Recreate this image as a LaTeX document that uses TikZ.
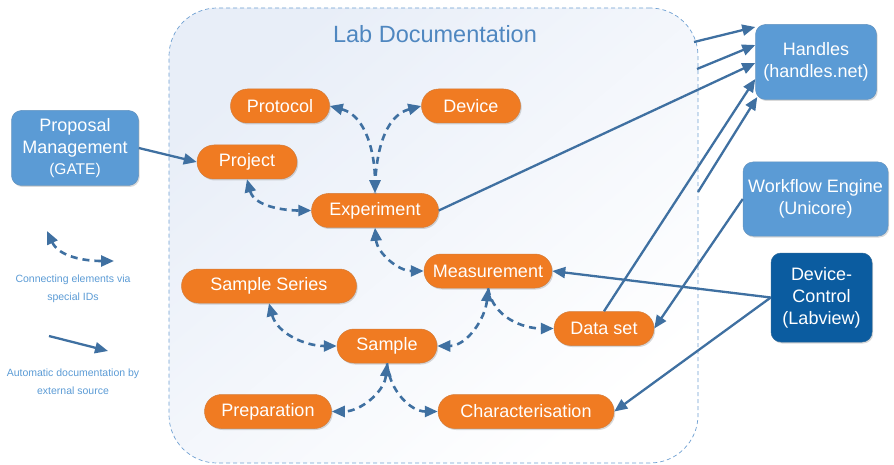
\documentclass[tikz,border=0pt]{standalone}
\usepackage{fontspec}
\setmainfont{Liberation Sans}
\usetikzlibrary{arrows.meta,shadows}
\definecolor{orng}{HTML}{F07B22}
\definecolor{lblue}{HTML}{5B9BD5}
\definecolor{dblue}{HTML}{0B5CA0}
\definecolor{acol}{HTML}{3F70A1}
\definecolor{ttl}{HTML}{4F87C0}
\definecolor{frame}{HTML}{6FA0D2}
\definecolor{labbg}{HTML}{E8EEF8}
\definecolor{legtxt}{HTML}{5B9BD5}
\begin{document}
\begin{tikzpicture}[x=1pt,y=-1pt,
  >={Triangle[length=13pt,width=11pt]},
  softshadow/.style={drop shadow={shadow xshift=1.2pt,shadow yshift=-1.5pt,opacity=0.25,fill=black!60}},
  entity/.style={fill=orng, text=white, draw=orng!75!gray, line width=0.5pt,
    rounded corners=17pt, minimum height=34pt, inner sep=0pt,
    font=\fontsize{18}{21}\selectfont, softshadow},
  extbox/.style={fill=lblue, text=white, draw=lblue!75!gray, line width=0.5pt,
    rounded corners=10pt, align=center, inner sep=0pt,
    font=\fontsize{18}{22}\selectfont, softshadow},
  idlink/.style={draw=acol, line width=2.6pt, dash pattern=on 7pt off 5pt},
  autolink/.style={draw=acol, line width=2.3pt, ->},
  legtext/.style={text=legtxt, align=center, font=\fontsize{10.5}{17.5}\selectfont}
]
\useasboundingbox (0,0) rectangle (894,465);

% container
\node[draw=frame, line width=0.7pt, dash pattern=on 4pt off 3pt, rounded corners=48pt,
  top color=labbg, bottom color=white, shading angle=40,
  minimum width=529pt, minimum height=455pt, inner sep=0pt] (lab) at (433.5,235.5) {};
\node[text=ttl, font=\fontsize{23.5}{26}\selectfont] (title) at (435,34) {Lab Documentation};

% entities
\node[entity, minimum width=99pt] (protocol) at (280,106) {Protocol};
\node[entity, minimum width=99pt] (device) at (471,106) {Device};
\node[entity, minimum width=100pt] (project) at (247,162) {Project};
\node[entity, minimum width=127pt] (experiment) at (375,210.5) {Experiment};
\node[entity, minimum width=128pt] (measurement) at (488,271) {Measurement};
\node[entity, minimum width=175pt] (series) at (269,286) {Sample Series};
\node[entity, minimum width=100pt] (sample) at (387,346) {Sample};
\node[entity, minimum width=100pt] (dataset) at (604,328.5) {Data set};
\node[entity, minimum width=127pt] (preparation) at (268,411.5) {Preparation};
\node[entity, minimum width=176pt] (charact) at (526,411.5) {Characterisation};

% external systems
\node[extbox, minimum width=121pt, minimum height=75pt] (handles) at (816,62) {Handles\\(handles.net)};
\node[extbox, minimum width=145pt, minimum height=74pt] (workflow) at (815.5,199) {Workflow Engine\\(Unicore)};
\node[extbox, fill=dblue, draw=dblue!75!gray, minimum width=101pt, minimum height=89pt] (devctl) at (821.5,297.5) {Device-\\Control\\(Labview)};
\node[extbox, minimum width=127pt, minimum height=75pt] (proposal) at (75,148) {Proposal\\Management\\[-1pt]{\fontsize{15.5}{18}\selectfont(GATE)}};

% dashed ID links
\draw[idlink, <->] (protocol.east) to[out=-15,in=90] (experiment.north);
\draw[idlink, <-] (device.west) to[out=195,in=90] (experiment.north);
\draw[idlink, <->] (project.south) to[out=-75,in=180] (experiment.west);
\draw[idlink, <->] (experiment.south) to[out=-85,in=180] (measurement.west);
\draw[idlink, <->] (series.south) to[out=-75,in=180] (sample.west);
\draw[idlink, <->] (measurement.south) to[out=-95,in=0] (sample.east);
\draw[idlink, ->] (measurement.south) to[out=-80,in=180] (dataset.west);
\draw[idlink, <->] (sample.south) to[out=-95,in=0] (preparation.east);
\draw[idlink, ->] (sample.south) to[out=-85,in=180] (charact.west);

% automatic documentation links
\coordinate (c1) at (694,42);
\coordinate (c2) at (697,69);
\coordinate (c3) at (698,192);
\draw[autolink] (proposal.east) -- (project.west);
\draw[autolink] (c1) -- ([yshift=35pt]handles.west);
\draw[autolink] (c2) -- ([yshift=17pt]handles.west);
\draw[autolink] (experiment.east) -- ([yshift=-1pt]handles.west);
\draw[autolink] (dataset.north) -- ([yshift=-17pt]handles.west);
\draw[autolink] (c3) -- ([xshift=2pt,yshift=-35pt]handles.west);
\draw[autolink] (workflow.west) -- (dataset.east);
\draw[autolink] (devctl.west) -- (measurement.east);
\draw[autolink] (devctl.west) -- (charact.east);

% legend
\coordinate (l1) at (47,231);
\coordinate (l2) at (114,261);
\draw[idlink, <->] (l1) to[out=-65,in=180] (l2);
\node[legtext] (legA) at (73,289) {Connecting elements via\\special IDs};
\coordinate (l3) at (49,336);
\coordinate (l4) at (108,351);
\draw[autolink] (l3) -- (l4);
\node[legtext] (legB) at (73,381.5) {Automatic documentation by\\external source};
\end{tikzpicture}
\end{document}
